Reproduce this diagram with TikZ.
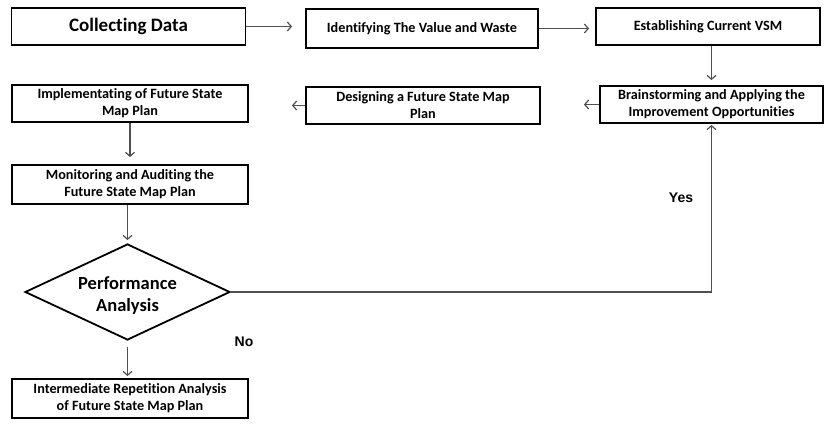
\documentclass[tikz,border=0pt]{standalone}
\usepackage{fontspec}
\setmainfont{Carlito}[Ligatures={NoCommon}]
\newfontfamily\arialfont{Liberation Sans}
\usetikzlibrary{shapes.geometric,arrows.meta}
\begin{document}
\begin{tikzpicture}[x=1pt,y=-1pt,
  stepbox/.style={draw=black,line width=1.8pt,rectangle,inner sep=0pt,align=center,
    font=\fontsize{14.2}{17}\selectfont\bfseries},
  bigbox/.style={stepbox,font=\fontsize{19}{22}\selectfont\bfseries},
  decbox/.style={draw=black,line width=1.8pt,diamond,shape aspect=2.1,inner sep=0pt,
    minimum width=205pt,minimum height=96pt},
  dectext/.style={align=center,inner sep=0pt,font=\fontsize{18.5}{22}\selectfont\bfseries},
  conn/.style={draw={rgb,255:red,80;green,80;blue,80},line width=1.4pt,
    -{Straight Barb[length=4pt,width=9pt,line width=1.2pt]}},
  lbl/.style={font=\fontsize{14}{16}\selectfont\arialfont\bfseries}]
\useasboundingbox (0,0) rectangle (826,430);
\node[bigbox,minimum width=234pt,minimum height=37pt] (cd) at (128.5,26.5) {Collecting Data};
\node[stepbox,minimum width=232pt,minimum height=39pt] (iv) at (422,28.5) {Identifying The Value and Waste};
\node[stepbox,minimum width=224pt,minimum height=37pt] (ec) at (708,26.5) {Establishing Current VSM};
\node[stepbox,minimum width=223pt,minimum height=37pt] (br) at (711.5,104.5) {Brainstorming and Applying the\\Improvement Opportunities};
\node[stepbox,minimum width=234pt,minimum height=37pt] (ds) at (423,105.5) {Designing a Future State Map\\Plan};
\node[stepbox,minimum width=236pt,minimum height=37pt] (im) at (130,103.5) {Implementating of Future State\\Map Plan};
\node[stepbox,minimum width=236pt,minimum height=39pt] (mo) at (130,184.5) {Monitoring and Auditing the\\Future State Map Plan};
\node[decbox,label={[dectext,yshift=-4pt]center:{Performance\\Analysis}}] (pa) at (127.5,292) {};
\node[stepbox,minimum width=236pt,minimum height=39pt] (ir) at (130,398.5) {Intermediate Repetition Analysis\\of Future State Map Plan};
\node[lbl] (yes) at (681,198) {Yes};
\node[lbl] (no) at (244,342) {No};
\draw[conn,shorten >=13pt] (cd.east) -- (cd.east -| iv.west);
\draw[conn,shorten >=6pt] (iv.east) -- (iv.east -| ec.west);
\draw[conn,shorten >=5pt] (ec.south -| br.south) -- (br.north);
\draw[conn,shorten >=43pt] (br.west) -- (br.west -| ds.east);
\draw[conn,shorten >=43pt] (ds.west) -- (ds.west -| im.east);
\draw[conn,shorten >=7pt] (im.south) -- (mo.north);
\draw[conn,shorten >=3pt] (mo.south -| pa.north) -- (pa.north);
\draw[conn,shorten >=1pt] (pa.east) -| (br.south);
\draw[conn,shorten >=2pt,shorten <=6pt] (pa.south) -- (ir.north -| pa.south);
\end{tikzpicture}
\end{document}
